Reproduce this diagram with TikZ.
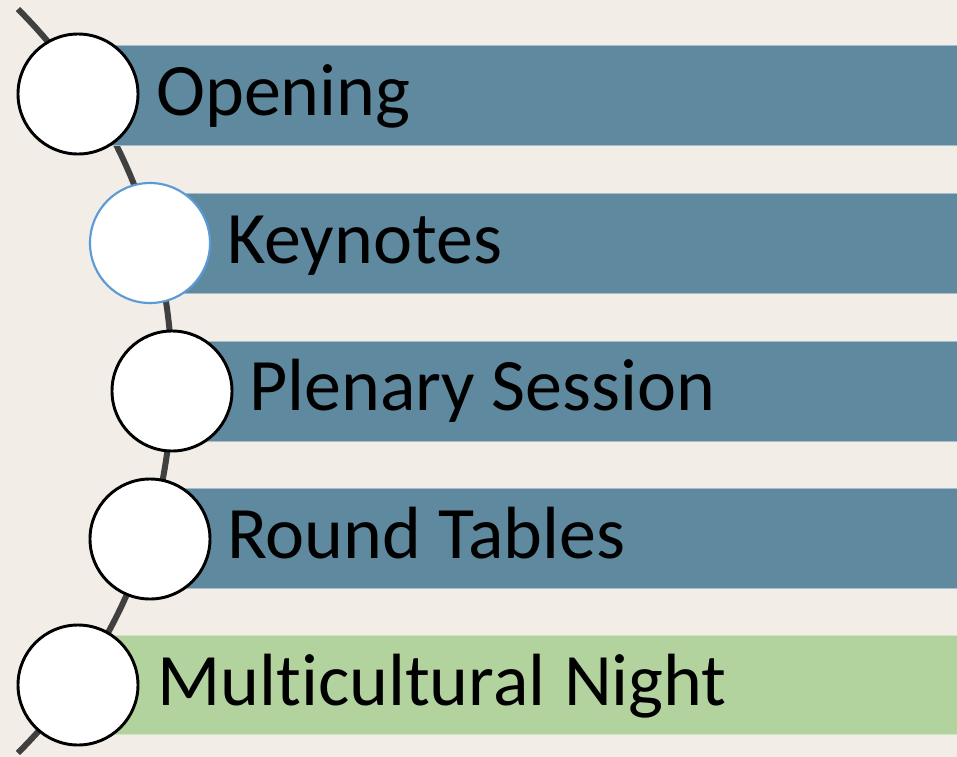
\documentclass[tikz,border=0pt]{standalone}
\usepackage{fontspec}
\setmainfont{Carlito}[Ligatures=NoCommon]
\usetikzlibrary{calc}
\definecolor{bgbeige}{HTML}{F2EDE7}
\definecolor{barblue}{HTML}{5F899E}
\definecolor{bargreen}{HTML}{B3D39E}
\definecolor{linegray}{HTML}{404040}
\definecolor{ringblue}{HTML}{5B9BD5}
\tikzset{>=latex}

\begin{document}
\begin{tikzpicture}[x=0.75pt, y=-0.75pt,
  bar/.style={fill=barblue, draw=barblue!55!white, line width=0.4pt},
  greenbar/.style={fill=bargreen, draw=bargreen!60!white, line width=0.4pt},
  dot/.style={circle, fill=white, draw=black, line width=2.2pt, minimum size=90pt, inner sep=0pt},
  lbl/.style={anchor=base west, inner sep=0pt, font=\fontsize{55.5}{60}\selectfont}]
\fill[bgbeige] (0,0) rectangle (957,757);
\useasboundingbox (0,0) rectangle (957,757);
% the bent track
\draw[linegray, line width=4.5pt] (-354,381) ++(45:526) arc (45:-45:526);
% bars
\draw[bar] (78,45) rectangle (957,145);
\draw[bar] (150,193) rectangle (957,293);
\draw[bar] (172,341) rectangle (957,441);
\draw[bar] (150,488) rectangle (957,588);
\draw[greenbar] (78,635) rectangle (957,734);
% stops
\node[dot] (open) at (78,94) {};
\node[dot, draw=ringblue, line width=1.6pt] (keynote) at (150,243) {};
\node[dot] (plenary) at (172,391) {};
\node[dot] (roundtab) at (150,539) {};
\node[dot] (night) at (78,685) {};
% texts
\node[lbl] (open-lbl) at (156,115) {Opening};
\node[lbl] (keynote-lbl) at (227,263) {Keynotes};
\node[lbl] (plenary-lbl) at (249,410) {Plenary Session};
\node[lbl] (roundtab-lbl) at (227,558) {Round Tables};
\node[lbl] (night-lbl) at (157,705) {Multicultural\hspace{14pt}Night};
\end{tikzpicture}
\end{document}
